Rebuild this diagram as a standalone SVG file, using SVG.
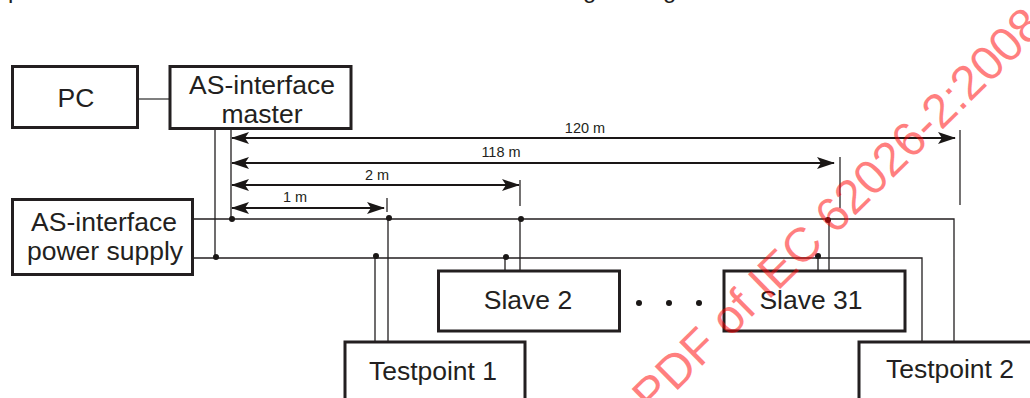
<svg xmlns="http://www.w3.org/2000/svg" width="1030" height="398" viewBox="0 0 1030 398">
<defs>
<marker id="a" markerUnits="userSpaceOnUse" viewBox="0 0 18 12" markerWidth="18" markerHeight="12" refX="17" refY="6" orient="auto-start-reverse"><path d="M0 0L18 6L0 12L4 6Z" fill="#1a1716"/></marker>
</defs>
<style>
text{font-family:"Liberation Sans",Arial,sans-serif;fill:#231f20}
.n{fill:#fff;stroke:#231f20;stroke-width:3}
.t{font-size:26.500px;text-anchor:middle}
.d{font-size:14.500px;text-anchor:middle}
.w{fill:none;stroke:#231f20;stroke-width:1.3}
.g{stroke:#555;stroke-width:1.500;fill:none}
.m{stroke:#1a1716;stroke-width:2;fill:none;marker-start:url(#a);marker-end:url(#a)}
.v{stroke:#1a1716;stroke-width:1.200;fill:none}
circle{fill:#1a1716}
</style>
<text x="8" y="-2" font-size="24">p</text>
<text x="583" y="-2" font-size="24">g</text>
<text x="663" y="-2" font-size="24">g</text>
<g id="connectors">
<path class="g" d="M138 99H170"/>
<path class="w" d="M215 128V258M231 128V220"/>
<path class="w" d="M193 219H954V343M193 258H922V343"/>
<path class="w" d="M375 256V343M388 218V343"/>
<path class="w" d="M505 258V271M520 219V271"/>
<path class="w" d="M818 256V271M829 219V271"/>
<circle cx="232" cy="219" r="3"/><circle cx="216" cy="257" r="3"/><circle cx="389" cy="218" r="3"/><circle cx="376" cy="256" r="3"/><circle cx="521" cy="219" r="3"/><circle cx="506" cy="257" r="3"/><circle cx="828" cy="220" r="3"/><circle cx="818" cy="256" r="3"/>
<path class="m" d="M232 138H955"/>
<path class="m" d="M232 163H834"/>
<path class="m" d="M232 185H519"/>
<path class="m" d="M232 208H384"/>
<path class="v" d="M960 130V205M840 157V208M520 180V206M387 198V212"/>
</g>
<g id="pc"><rect class="n" x="12.500" y="66.500" width="125" height="61"/><text class="t" x="76" y="107">PC</text></g>
<g id="master"><rect class="n" x="170" y="66.500" width="181" height="62"/><text class="t" x="262" y="94">AS-interface</text><text class="t" x="262" y="123">master</text></g>
<g id="power"><rect class="n" x="12.500" y="199.500" width="180" height="75"/><text class="t" x="104" y="231">AS-interface</text><text class="t" x="105" y="260">power supply</text></g>
<g id="slave2"><rect class="n" x="438.500" y="271" width="181" height="60"/><text class="t" x="528" y="309">Slave 2</text></g>
<g id="slave31"><rect class="n" x="724" y="271" width="181" height="60"/><text class="t" x="811" y="309">Slave 31</text></g>
<g id="tp1"><path class="n" d="M345 400V342H525V400"/><text class="t" x="433" y="380">Testpoint 1</text></g>
<g id="tp2"><path class="n" d="M859 400V342H1032"/><text class="t" x="950" y="378">Testpoint 2</text></g>
<g id="dims">
<text class="d" x="585" y="133">120 m</text><text class="d" x="501" y="157">118 m</text><text class="d" x="377" y="180">2 m</text><text class="d" x="295" y="202">1 m</text>
</g>
<circle cx="639" cy="303" r="3"/><circle cx="669" cy="303" r="3"/><circle cx="699" cy="303" r="3"/>
<text x="1046" y="28" transform="rotate(-44.5 1046 28)" font-size="48" text-anchor="end" style="fill:#f00" fill-opacity=".5">PDF of IEC 62026-2:2008</text>
</svg>
